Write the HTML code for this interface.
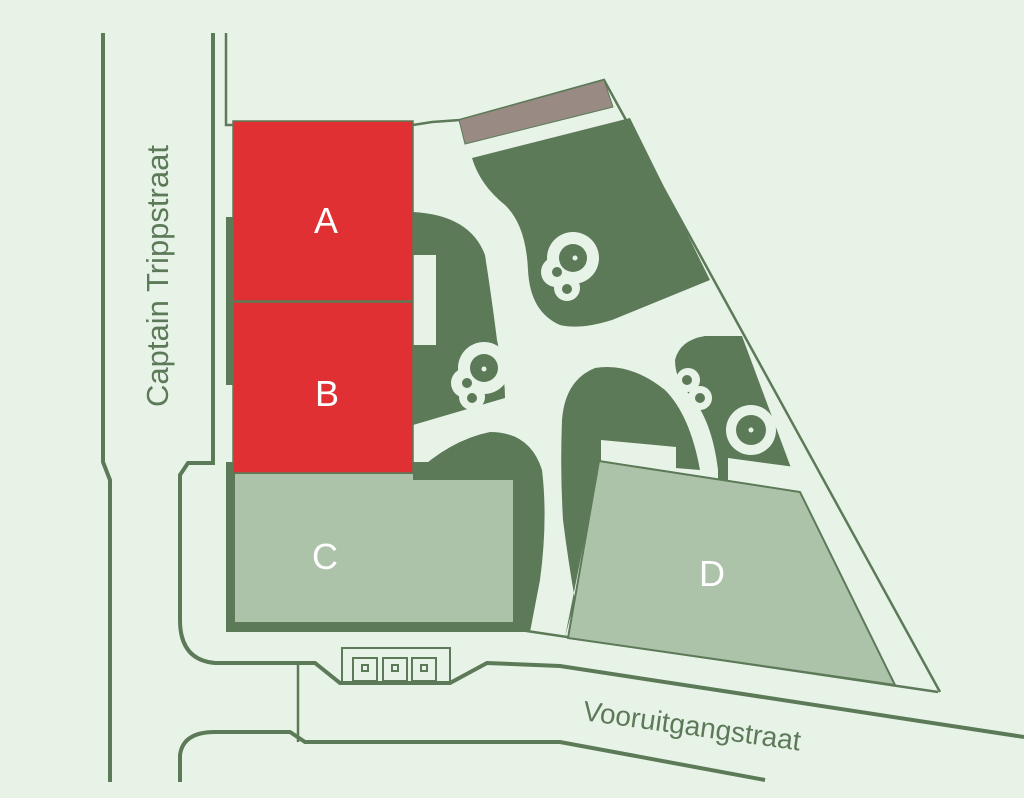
<!DOCTYPE html>
<html><head><meta charset="utf-8"><style>
html,body{margin:0;padding:0;background:#e8f3e8;}
svg{display:block;}
text{font-family:"Liberation Sans",sans-serif;}
</style></head><body>
<svg width="1024" height="798" viewBox="0 0 1024 798" xmlns="http://www.w3.org/2000/svg">
<rect width="1024" height="798" fill="#e8f3e8"/>
<g fill="none" stroke="#5c7a58" stroke-width="4">
<path d="M103,33 V462 L110,480 V782"/>
<path d="M213,33 V463 H188 L180,475 V620 Q180,660 215,663 H315 L340,683 H450 L487,663 L560,666 L1024,737"/>
<path d="M180,782 V755 Q183,732 215,732 H290 L305,742 H560 L765,780"/>
<path d="M298,663 V742" stroke-width="2.5"/>
</g>
<path d="M226,33 V125 H413 L432,122 L460,120 L604,80 L940,692" fill="none" stroke="#5c7a58" stroke-width="2.5"/>
<path d="M520,630 L938,692" fill="none" stroke="#5c7a58" stroke-width="2.5"/>
<g fill="#5c7a58">
<path d="M472,158 L630,118 L710,280 L612,320 Q580,330 560,325 Q530,312 528,270 Q526,225 505,205 Q480,185 472,158 Z"/>
<path d="M413,212 Q470,215 485,255 Q492,300 497,340 Q505,375 505,398 L413,425 Z"/>
<path d="M413,475 Q450,440 490,432 Q530,432 542,470 Q548,520 540,580 L530,632 L413,632 Z"/>
<path d="M565,637 L575,600 Q568,560 563,520 Q560,470 562,420 Q565,380 595,368 Q630,362 665,390 Q690,415 700,470 L600,462 Z"/>
<path d="M718,470 Q712,420 690,395 Q675,380 675,360 Q680,340 705,336 L742,336 L800,492 L718,492 Z"/>
<rect x="226" y="217" width="9" height="168"/>
<rect x="226" y="462" width="298" height="170"/>
</g>
<g fill="#e8f3e8">
<rect x="413" y="255" width="23" height="90"/>
<polygon points="601,440 676,447 676,478 601,468"/>
<polygon points="728,458 795,467 800,492 728,482"/>
</g>
<polygon points="459,120 604,80 613,107 465,144" fill="#9a8a84" stroke="#5c7a58" stroke-width="1"/>
<rect x="233" y="121" width="180" height="180" fill="#e03033" stroke="#5c7a58" stroke-width="1.5"/>
<rect x="233" y="302" width="180" height="171" fill="#e03033" stroke="#5c7a58" stroke-width="1.5"/>
<polygon points="235,474 413,474 413,480 513,480 513,622 235,622" fill="#adc3a9"/>
<polygon points="599,461 800,492 895,685 568,638" fill="#adc3a9" stroke="#5c7a58" stroke-width="2"/>
<g fill="#e8f3e8">
<circle cx="573" cy="258" r="26"/><circle cx="556" cy="272" r="15"/><circle cx="567" cy="288" r="13"/>
<circle cx="484" cy="368" r="26"/><circle cx="466" cy="383" r="15"/><circle cx="472" cy="397" r="13"/>
<circle cx="688" cy="380" r="12"/><circle cx="700" cy="398" r="12"/>
<circle cx="751" cy="430" r="25"/>
</g>
<g fill="#5c7a58">
<circle cx="573" cy="258" r="14"/><circle cx="557" cy="272" r="5"/><circle cx="567" cy="289" r="5"/>
<circle cx="484" cy="368" r="14"/><circle cx="467" cy="383" r="5"/><circle cx="472" cy="398" r="5"/>
<circle cx="687" cy="380" r="5"/><circle cx="700" cy="398" r="5"/>
<circle cx="751" cy="430" r="15"/>
</g>
<g fill="#e8f3e8"><circle cx="575" cy="258" r="2.5"/><circle cx="484" cy="369" r="2.5"/><circle cx="751" cy="430" r="2.5"/></g>
<g fill="none" stroke="#5c7a58" stroke-width="2">
<rect x="342" y="648" width="108" height="35"/>
<rect x="353" y="658" width="24" height="23"/><rect x="383" y="658" width="24" height="23"/><rect x="412" y="658" width="24" height="23"/>
<rect x="362" y="665" width="6" height="6"/><rect x="392" y="665" width="6" height="6"/><rect x="421" y="665" width="6" height="6"/>
</g>
<g fill="#fff" font-size="36" text-anchor="middle">
<text x="326" y="233">A</text><text x="327" y="406">B</text><text x="325" y="569">C</text><text x="712" y="586">D</text>
</g>
<text transform="translate(168,276) rotate(-90)" text-anchor="middle" font-size="31" fill="#5c7a58">Captain Trippstraat</text>
<text transform="translate(582,720) rotate(8)" font-size="28" fill="#5c7a58">Vooruitgangstraat</text>
</svg>
</body></html>
